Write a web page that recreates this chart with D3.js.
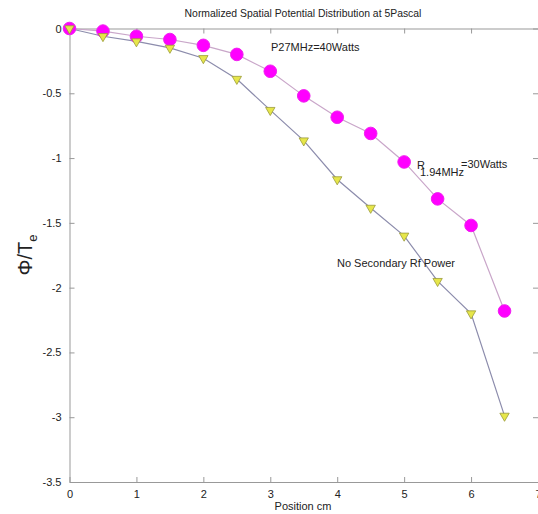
<!DOCTYPE html>
<meta charset="utf-8">
<style>
body { margin: 0; background: #fff; font-family: Arial, 'Liberation Sans', sans-serif; }
.axis path, .axis line { stroke: #999; }
.axis text { fill: #222; font-size: 11px; }
.lbl { fill: #222; font-size: 11px; }
</style>
<svg id="chart" width="538" height="514"></svg>
<script src="https://cdn.jsdelivr.net/npm/d3@7"></script>
<script>

// data
var positions = [0, 0.5, 1, 1.5, 2, 2.5, 3, 3.5, 4, 4.5, 5, 5.5, 6, 6.5];
var withRf = [0, -0.02, -0.06, -0.085, -0.13, -0.2, -0.33, -0.52, -0.685, -0.81, -1.03, -1.315, -1.52, -2.18];
var noRf = [0, -0.06, -0.1, -0.15, -0.23, -0.39, -0.63, -0.865, -1.165, -1.385, -1.6, -1.95, -2.2, -2.99];
var xTicks = [0, 1, 2, 3, 4, 5, 6, 7];
var yTicks = [0, -0.5, -1, -1.5, -2, -2.5, -3, -3.5];

var margin = {top: 28.5, right: 0, left: 69.5, bottom: 32};
var svg = d3.select("#chart"),
    width = 538 - margin.left - margin.right,
    height = 514 - margin.top - margin.bottom;

var x = d3.scaleLinear().domain([0, 7]).range([0, width]);
var y = d3.scaleLinear().domain([-3.5, 0]).range([height, 0]);

var g = svg.append("g")
    .attr("transform", "translate(" + margin.left + "," + margin.top + ")");

// axes, matlab style with inward ticks on all four sides
g.append("g").attr("class", "axis")
    .attr("transform", "translate(0," + height + ")")
    .call(d3.axisBottom(x).tickValues(xTicks).tickSizeInner(-5).tickSizeOuter(0).tickPadding(8)
      .tickFormat(d3.format("d")));
g.append("g").attr("class", "axis")
    .call(d3.axisLeft(y).tickValues(yTicks).tickSizeInner(-5).tickSizeOuter(0).tickPadding(8)
      .tickFormat(function(d) { return String(d); }));
g.append("g").attr("class", "axis")
    .call(d3.axisTop(x).tickValues(xTicks).tickSizeInner(-5).tickSizeOuter(0).tickFormat(""));
g.append("g").attr("class", "axis")
    .attr("transform", "translate(" + width + ",0)")
    .call(d3.axisRight(y).tickValues(yTicks).tickSizeInner(-5).tickSizeOuter(0).tickFormat(""));

var line = d3.line()
    .x(function(d, i) { return x(positions[i]); })
    .y(function(d) { return y(d); });

// 27 MHz + 1.94 MHz series
g.append("path")
    .datum(withRf)
    .attr("fill", "none")
    .attr("stroke", "#c9a6c9")
    .attr("stroke-width", 1.2)
    .attr("d", line);

// no secondary power series
g.append("path")
    .datum(noRf)
    .attr("fill", "none")
    .attr("stroke", "#8c8cac")
    .attr("stroke-width", 1.2)
    .attr("d", line);

g.selectAll(".circ")
    .data(withRf)
  .enter().append("circle")
    .attr("class", "circ")
    .attr("cx", function(d, i) { return x(positions[i]); })
    .attr("cy", function(d) { return y(d); })
    .attr("r", 6.3)
    .attr("fill", "#ff00ff")
    .attr("stroke", "#f020f0");

var tri = d3.symbol().type(d3.symbolTriangle).size(38);
g.selectAll(".tri")
    .data(noRf)
  .enter().append("path")
    .attr("class", "tri")
    .attr("d", tri)
    .attr("transform", function(d, i) {
      return "translate(" + x(positions[i]) + "," + y(d) + ") rotate(180)";
    })
    .attr("fill", "#e6e64a")
    .attr("stroke", "#9a9a3a")
    .attr("stroke-width", 0.8);

// titles and labels
svg.append("text").attr("class", "lbl")
    .attr("x", 303).attr("y", 17)
    .attr("text-anchor", "middle")
    .style("font-size", "10.4px")
    .text("Normalized Spatial Potential Distribution at 5Pascal");

svg.append("text").attr("class", "lbl")
    .attr("x", 303).attr("y", 510)
    .attr("text-anchor", "middle")
    .text("Position cm");

var ylab = svg.append("text").attr("class", "lbl")
    .attr("transform", "translate(32,255) rotate(-90)")
    .attr("text-anchor", "middle")
    .style("font-size", "20px");
ylab.append("tspan").text("\u03A6/T");
ylab.append("tspan").attr("dy", 5).style("font-size", "13px").text("e");

svg.append("text").attr("class", "lbl")
    .attr("x", 271).attr("y", 51)
    .text("P27MHz=40Watts");

svg.append("text").attr("class", "lbl")
    .attr("x", 417).attr("y", 169)
    .text("R");
svg.append("text").attr("class", "lbl")
    .attr("x", 420).attr("y", 176)
    .text("1.94MHz");
svg.append("text").attr("class", "lbl")
    .attr("x", 461).attr("y", 168)
    .text("=30Watts");

svg.append("text").attr("class", "lbl")
    .attr("x", 337).attr("y", 267)
    .text("No Secondary Rf Power");

</script>
